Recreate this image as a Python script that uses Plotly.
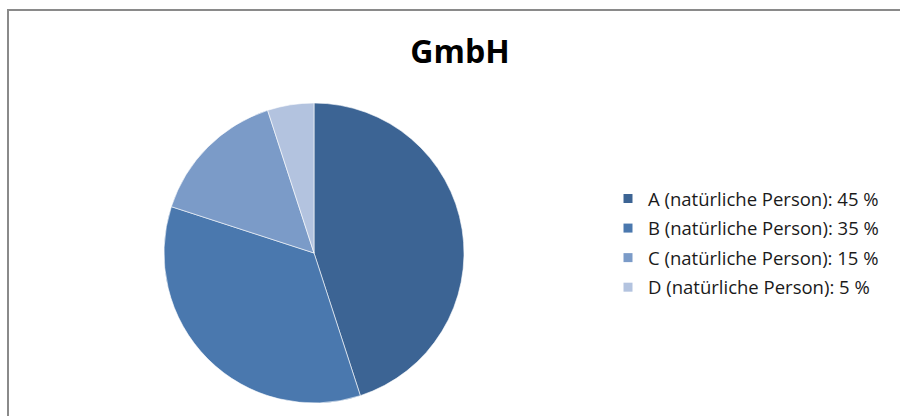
import plotly.graph_objects as go

labels = ["A (natürliche Person): 45 %", "B (natürliche Person): 35 %",
          "C (natürliche Person): 15 %", "D (natürliche Person): 5 %"]
values = [45, 35, 15, 5]
colors = ["#3C6494", "#4A78AE", "#7B9BC8", "#B3C3DF"]
title_text = "GmbH"

W, H = 900, 416

fig = go.Figure()
fig.add_trace(go.Pie(
    labels=labels, values=values, sort=False, direction="clockwise", rotation=0,
    marker=dict(colors=colors, line=dict(color="white", width=0.6)),
    textinfo="none", hoverinfo="label", showlegend=False,
    domain=dict(x=[164 / W, 464 / W], y=[(H - 403) / H, (H - 103) / H]),
))
for i, (lab, col) in enumerate(zip(labels, colors)):
    fig.add_trace(go.Scatter(
        x=[None], y=[None], mode="markers", name=lab,
        marker=dict(symbol="square", size=9, color=col),
        legendgroup=f"g{i}", showlegend=True,
    ))

fig.update_layout(
    width=W, height=H, margin=dict(l=0, r=0, t=0, b=0),
    paper_bgcolor="white", plot_bgcolor="white",
    xaxis=dict(visible=False), yaxis=dict(visible=False),
    font=dict(family="Open Sans, sans-serif", color="#000000"),
    title=dict(text=f"<b>{title_text}</b>", x=460 / W, xanchor="center",
               y=1 - 52 / H, yanchor="middle",
               font=dict(size=32, family="Open Sans, sans-serif", color="#000")),
    legend=dict(x=608 / W, xanchor="left", y=1 - 180 / H, yanchor="top",
                font=dict(size=18.5, color="#1a1a1a"), tracegroupgap=2.5,
                traceorder="grouped", bgcolor="rgba(0,0,0,0)"),
    shapes=[
        dict(type="line", xref="paper", yref="paper", x0=8 / W, x1=8 / W,
             y0=0, y1=1 - 9 / H, line=dict(color="#8a8a8a", width=2)),
        dict(type="line", xref="paper", yref="paper", x0=7 / W, x1=1,
             y0=1 - 10 / H, y1=1 - 10 / H, line=dict(color="#8a8a8a", width=2)),
    ],
)

fig.write_html("out.html")
